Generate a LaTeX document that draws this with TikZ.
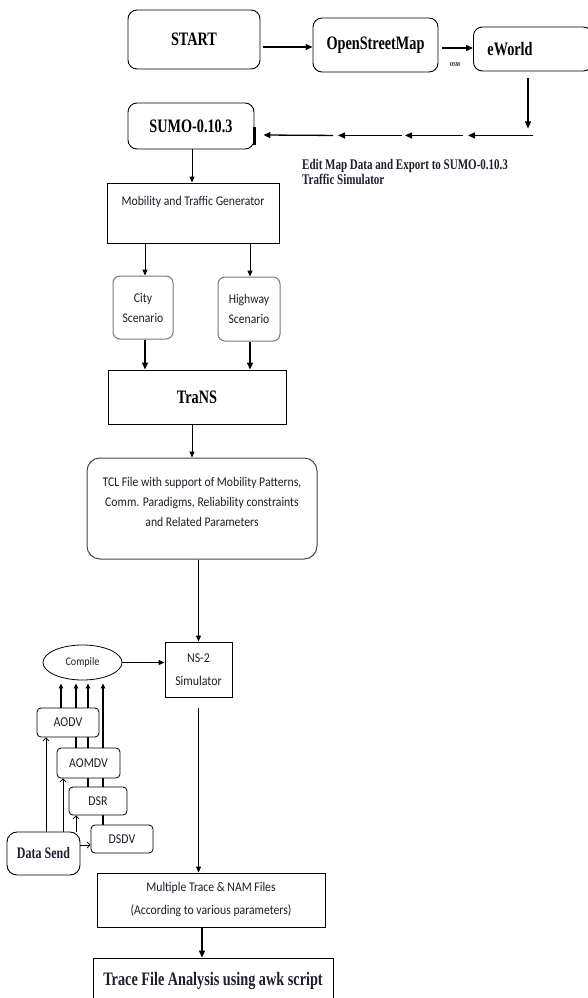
\documentclass[tikz,border=0pt]{standalone}
\usepackage{fontspec}
\usetikzlibrary{arrows.meta,backgrounds,shapes.geometric,calc}
\newfontfamily\tnrb[FakeStretch=0.75]{Liberation Serif}
\newfontfamily\calb[FakeStretch=0.88]{Carlito}
\definecolor{txtc}{RGB}{30,30,45}
\definecolor{grayedge}{RGB}{120,120,120}
\definecolor{tcledge}{RGB}{70,70,70}
\begin{document}
\begin{tikzpicture}[x=1pt,y=-1pt,
  rbox/.style={draw, rounded corners=9pt, line width=0.9pt, fill=white, inner sep=0pt},
  sbox/.style={draw, line width=0.9pt, fill=white, inner sep=0pt},
  smallbox/.style={draw, rounded corners=4pt, line width=0.8pt, fill=white, inner sep=0pt, font=\calb\fontsize{13.5}{15}\selectfont, text=txtc},
  serifbig/.style={font=\tnrb\bfseries\fontsize{19}{22}\selectfont},
  calt/.style={font=\calb\fontsize{13.3}{20}\selectfont, text=txtc, align=center},
  arr/.style={line width=1.3pt, -{Triangle[length=7pt,width=6pt]}},
  midarr/.style={line width=1pt, -{Triangle[length=6pt,width=5pt]}},
  uparr/.style={line width=1.3pt, -{Triangle[length=5pt,width=4.5pt]}},
  barb/.style={line width=0.7pt, -{Straight Barb[length=3pt,width=6pt]}},
]
\useasboundingbox (0,0) rectangle (588,998);
\clip (0,0) rectangle (588,998);

% top row
\node[rbox, serifbig, minimum width=132pt, minimum height=59pt] (start) at (194,39.5) {START};
\node[rbox, serifbig, minimum width=125pt, minimum height=54pt] (osm) at (375.5,45) {OpenStreetMap};
\node[rbox, serifbig, anchor=west, text width=91pt, align=left, inner xsep=14pt, minimum height=44pt] (eworld) at (473,49) {eWorld};
\node[font=\tnrb\bfseries\fontsize{6}{7}\selectfont] (osmlab) at (455,65) {OSM};

\coordinate (a1) at ($(start.east)+(3,7.5)$);
\draw[arr] (a1) -- (a1 -| osm.west);
\coordinate (a2) at ($(osm.east)+(4,3)$);
\draw[arr] (a2) -- (a2 -| eworld.west);

% SUMO and the export chain
\node[rbox, font=\tnrb\bfseries\fontsize{19}{22}\selectfont, minimum width=126pt, minimum height=46pt] (sumo) at (191,126) {SUMO-0.10.3};
\draw[line width=3pt] ($(sumo.east)+(0,1)$) -- ($(sumo.east)+(0,19)$);

\coordinate (ewdown) at ($(eworld.south west)+(55,7)$);
\coordinate (corner) at ($(ewdown)+(0,57)$);
\draw[line width=1.2pt, -{Triangle[length=7pt,width=6pt]}] (ewdown) -- ($(corner)+(0,-7)$);
\draw[arr] ($(corner)+(5,0)$) -- ($(corner)+(-60,0)$);
\draw[arr] ($(corner)+(-65,0)$) -- ($(corner)+(-123,0)$);
\draw[arr] ($(corner)+(-126,0)$) -- ($(corner)+(-190,0)$);
\draw[arr] ($(corner)+(-195,0)$) -- ($(sumo.east)+(9,9)$);

\node[font=\tnrb\bfseries\fontsize{14.7}{15}\selectfont, anchor=north west, align=left, inner sep=0pt, text=txtc] (edit) at (302,159) {Edit Map Data and Export to SUMO-0.10.3\\Traffic Simulator};

% mobility generator
\node[sbox, minimum width=172pt, minimum height=60pt] (mob) at (193,213) {};
\node[calt] (mobt) at (193,202) {Mobility and Traffic Generator};
\coordinate (s1) at ($(sumo.south)+(1,0)$);
\draw[midarr] (s1) -- (s1 |- mob.north);

\node[draw=grayedge, rounded corners=7pt, line width=1pt, fill=white, minimum width=60pt, minimum height=63pt, calt, inner sep=0pt] (city) at (143,307.5) {City\\Scenario};
\node[draw=grayedge, rounded corners=7pt, line width=1pt, fill=white, minimum width=62pt, minimum height=64pt, calt, inner sep=0pt] (hwy) at (249,309) {Highway\\Scenario};
\coordinate (c1) at ($(city.north)+(2,0)$);
\coordinate (h1) at ($(hwy.north)+(1,0)$);
\draw[midarr] (c1 |- mob.south) -- (c1);
\draw[midarr] (h1 |- mob.south) -- (h1);

\node[sbox, serifbig, minimum width=178pt, minimum height=54pt] (trans) at (197,397) {TraNS};
\coordinate (c2) at ($(city.south)+(2,0)$);
\coordinate (h2) at ($(hwy.south)+(1,0)$);
\draw[arr] (c2) -- (c2 |- trans.north);
\draw[arr] (h2) -- (h2 |- trans.north);

% TCL
\node[draw=tcledge, rounded corners=13pt, line width=1pt, fill=white, minimum width=230pt, minimum height=101pt] (tcl) at (202,508.5) {};
\node[calt] (tclt) at (202,502) {TCL File with support of Mobility Patterns,\\Comm. Paradigms, Reliability constraints\\and Related Parameters};
\coordinate (t1) at ($(trans.south)+(-5,0)$);
\draw[midarr] (t1) -- (t1 |- tcl.north);

% NS-2 and compile
\node[sbox, calt, minimum width=67pt, minimum height=55pt, line width=0.9pt, font=\calb\fontsize{13.5}{23}\selectfont] (ns2) at (198.5,669.5) {NS-2\\Simulator};
\draw[line width=0.9pt, -{Triangle[length=6pt,width=5pt]}] (tcl.south -| ns2.north) -- (ns2.north);

\node[draw, ellipse, line width=0.8pt, fill=white, minimum width=79pt, minimum height=35pt, inner sep=0pt, font=\calb\fontsize{11.5}{13}\selectfont, text=txtc] (compile) at (82.5,662.5) {Compile};
\draw[line width=1pt, -{Triangle[length=6pt,width=5pt]}] (compile.east) -- (compile.east -| ns2.west);

\node[smallbox, minimum width=62pt, minimum height=29pt] (aodv) at (68,722.5) {AODV};
\node[smallbox, minimum width=63pt, minimum height=30pt] (aomdv) at (88.5,763) {AOMDV};
\node[smallbox, minimum width=58pt, minimum height=28pt] (dsr) at (98,801) {DSR};
\node[smallbox, minimum width=62pt, minimum height=28pt] (dsdv) at (122,839) {DSDV};
\node[rbox, rounded corners=10pt, minimum width=73pt, minimum height=43pt, font=\tnrb\bfseries\fontsize{16}{18}\selectfont, text=txtc] (dsend) at (43.5,853.5) {Data Send};

\coordinate (u1) at ($(aodv.north)+(-7,0)$);
\coordinate (u2) at ($(aomdv.north)+(-12.5,0)$);
\coordinate (u3) at ($(dsr.north)+(-10,0)$);
\coordinate (u4) at ($(dsdv.north)+(-19,0)$);
\coordinate (cb) at ($(compile.south)+(0,3)$);
\begin{scope}[on background layer]
\draw[uparr] (u1) -- (u1 |- cb);
\draw[uparr] (u2) -- (u2 |- cb);
\draw[uparr] (u3) -- (u3 |- cb);
\draw[uparr] (u4) -- (u4 |- cb);
\end{scope}

\coordinate (d1) at ($(dsend.north)+(2.5,0)$);
\coordinate (d2) at ($(dsend.north)+(19.5,0)$);
\coordinate (d3) at ($(dsend.north)+(32.5,0)$);
\coordinate (d4) at ($(dsend.east)+(0,-8.5)$);
\draw[barb] (d1) -- (d1 |- aodv.south);
\draw[barb] (d2) -- (d2 |- aomdv.south);
\draw[barb] (d3) -- (d3 |- dsr.south);
\draw[barb] (d4) -- (d4 -| dsdv.west);

% outputs
\node[sbox, calt, minimum width=228pt, minimum height=54pt, font=\calb\fontsize{13.3}{23}\selectfont] (multi) at (211,900) {Multiple Trace \& NAM Files\\(According to various parameters)};
\coordinate (n1) at ($(ns2.south)+(0,11)$);
\draw[line width=0.9pt, -{Triangle[length=6pt,width=5pt]}] (n1) -- (n1 |- multi.north);

\node[sbox, minimum width=240pt, minimum height=54pt] (trace) at (213,985) {};
\node[serifbig, text=txtc] (tracet) at (213,981) {Trace File Analysis using awk script};
\coordinate (m1) at ($(multi.south)+(-9,0)$);
\draw[arr] (m1) -- (m1 |- trace.north);
\end{tikzpicture}
\end{document}
